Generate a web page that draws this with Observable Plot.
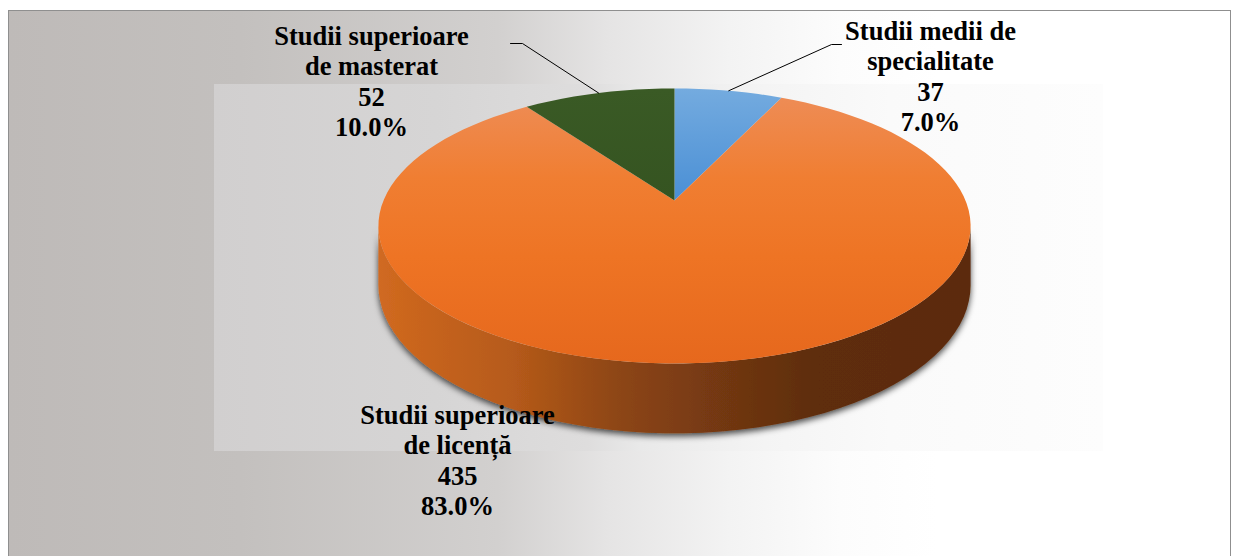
<!DOCTYPE html>
<html>
<head>
<meta charset="utf-8">
<script src="https://cdn.jsdelivr.net/npm/d3@7"></script>
<script src="https://cdn.jsdelivr.net/npm/@observablehq/plot@0.6"></script>
<style>
  body { margin: 0; background: #ffffff; }
  #wrap { position: relative; width: 1238px; height: 556px; overflow: hidden; }
  #outer {
    position: absolute; left: 8px; top: 10px; width: 1223px; height: 560px;
    border: 1px solid #8f8f8f; box-sizing: border-box;
    background: linear-gradient(to right, #bebab8 0%, #c3c0be 19%, #d2d0cf 40%, #e5e4e4 49%, #f3f3f3 59%, #fcfcfc 68%, #ffffff 76%);
  }
  #inner {
    position: absolute; left: 214px; top: 84px; width: 889px; height: 367px;
    background: linear-gradient(to right, #d1cfcf 0%, #d6d5d5 25%, #dedddd 42%, #e9e9e9 48%, #f4f4f4 62%, #fafafa 76%, #fdfdfd 100%);
  }
  #chart { position: absolute; left: 0; top: 0; }
</style>
</head>
<body>
<div id="wrap">
  <div id="outer"></div>
  <div id="inner"></div>
  <div id="chart"></div>
</div>
<script>
// ---- data ----
const categories = ["Studii medii de specialitate", "Studii superioare de licență", "Studii superioare de masterat"];
const counts = [37, 435, 52];
const percentLabels = ["7.0%", "83.0%", "10.0%"];
const labelLines = [["Studii medii de", "specialitate"], ["Studii superioare", "de licență"], ["Studii superioare", "de masterat"]];

// ---- layout / style (not data) ----
const sliceFills = ["url(#gBlue)", "url(#gOrange)", "url(#gGreen)"];
const CX = 674, CY = 200, RX = 291, RY = 132.8, K = 0.185, DEPTH = 57;
// label block positions (x centre, top of first line) and leader elbows
const labelLayout = [
  {x: 930, y: 18, elbow: [[841, 44], [831, 44]]},
  {x: 457, y: 402, elbow: null},
  {x: 371, y: 23, elbow: [[510, 43], [522, 43]]}
];

const data = categories.map((c, i) => ({category: c, value: counts[i], i}));
const arcs = d3.pie().sort(null).value(d => d.value)(data);

// perspective projection of a point on the rim of the pie (theta clockwise from the far side)
function rim(theta, depth = 0) {
  const u = Math.sin(theta), v = -Math.cos(theta);
  const s = 1 / (1 - K * v);
  return {x: CX + RX * u * s, y: CY + RY * v * s + depth * s};
}
const N = 120;
function arcPoints(a0, a1, depth) {
  const n = Math.max(2, Math.ceil(N * (a1 - a0) / (2 * Math.PI)));
  return d3.range(n + 1).map(j => rim(a0 + (a1 - a0) * j / n, depth));
}

// top faces
const topFaces = arcs.map(a => [{x: CX, y: CY}, ...arcPoints(a.startAngle, a.endAngle, 0)].map(p => ({...p, key: a.data.category})));

// side walls (visible front part only)
const visA0 = Math.acos(-K), visA1 = 2 * Math.PI - Math.acos(-K);
const sides = arcs.map(a => {
  const s0 = Math.max(a.startAngle, visA0), s1 = Math.min(a.endAngle, visA1);
  if (s1 <= s0) return null;
  const top = arcPoints(s0, s1, 0);
  const bot = arcPoints(s0, s1, DEPTH).reverse();
  return {i: a.data.i, pts: [...top, ...bot].map(p => ({...p, key: a.data.category}))};
}).filter(Boolean);

// labels
const labels = arcs.map(a => {
  const L = labelLayout[a.data.i];
  return {x: L.x, y: L.y, text: [...labelLines[a.data.i], String(a.data.value), percentLabels[a.data.i]].join("\n")};
});
// leader lines from the slice's mid-angle on the rim
const leaders = [];
arcs.forEach(a => {
  const L = labelLayout[a.data.i];
  if (!L.elbow) return;
  const m = rim((a.startAngle + a.endAngle) / 2, 0);
  [...L.elbow.map(([x, y]) => ({x, y})), m].forEach(p => leaders.push({...p, key: a.data.category}));
});

const marks = [
  ...sides.map(s => Plot.line(s.pts, {x: "x", y: "y", curve: "linear-closed", fill: "url(#gSide)", stroke: "none"})),
  ...topFaces.map((pts, i) => Plot.line(pts, {x: "x", y: "y", curve: "linear-closed", fill: sliceFills[i], stroke: "none"})),
  Plot.line(leaders, {x: "x", y: "y", z: "key", stroke: "#000", strokeWidth: 1}),
  Plot.text(labels, {x: "x", y: "y", text: "text", textAnchor: "middle", lineAnchor: "top",
    fontSize: 26.5, fontWeight: "bold", fontFamily: "'Liberation Serif', 'Times New Roman', serif",
    lineHeight: 1.143, fill: "#000"})
];

const chart = Plot.plot({
  width: 1238, height: 556,
  margin: 0,
  x: {domain: [0, 1238], range: [0, 1238], axis: null},
  y: {domain: [0, 556], range: [0, 556], axis: null},
  style: {background: "transparent", overflow: "visible"},
  marks
});

const defs = d3.select(chart).insert("defs", ":first-child");
function lin(id, attrs, stops) {
  const g = defs.append("linearGradient").attr("id", id);
  Object.entries(attrs).forEach(([k, v]) => g.attr(k, v));
  stops.forEach(([o, c]) => g.append("stop").attr("offset", o).attr("stop-color", c));
}
lin("gSide", {x1: 0, y1: 0, x2: 1, y2: 0}, [[0, "#d06a21"], [0.03, "#cd671f"], [0.23, "#b55a1a"], [0.40, "#8e4614"], [0.61, "#6e3511"], [0.74, "#5e2d0c"], [1, "#5c2b0b"]]);
lin("gOrange", {x1: 0, y1: 0, x2: 0, y2: 1}, [[0, "#ee8c55"], [0.3, "#f07e32"], [0.6, "#ee7424"], [1, "#e6681d"]]);
lin("gBlue", {x1: 0, y1: 0, x2: 0, y2: 1}, [[0, "#74abdf"], [1, "#4a8fd5"]]);
lin("gGreen", {x1: 0, y1: 0, x2: 0, y2: 1}, [[0, "#3a5a25"], [1, "#355421"]]);
const f = defs.append("filter").attr("id", "shadow").attr("x", "-10%").attr("y", "-20%").attr("width", "120%").attr("height", "150%");
f.append("feDropShadow").attr("dx", 0).attr("dy", 3).attr("stdDeviation", 3).attr("flood-color", "#000").attr("flood-opacity", 0.7);
d3.select(chart).selectAll("g[fill='url(#gSide)']").attr("filter", "url(#shadow)");

document.getElementById("chart").appendChild(chart);
</script>
</body>
</html>
